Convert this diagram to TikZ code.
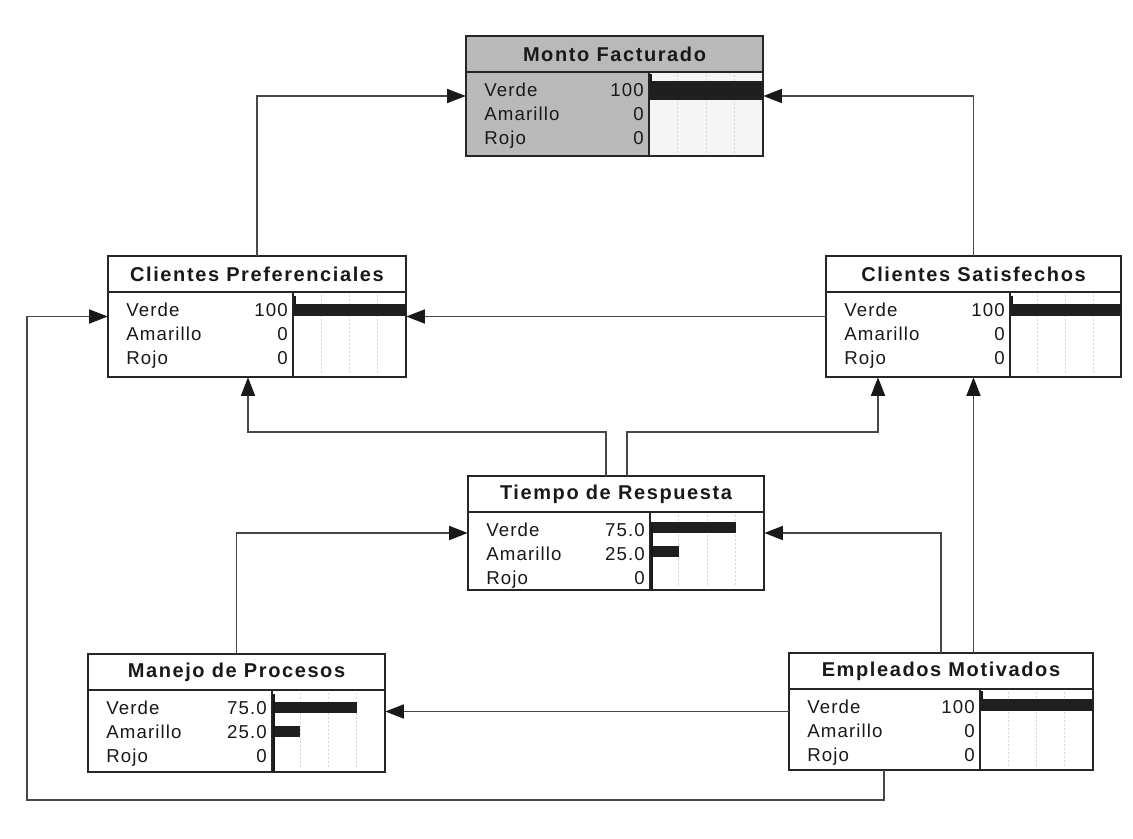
\documentclass[tikz,border=0pt]{standalone}
\usepackage{fontspec}
\setmainfont{Liberation Sans}
\usetikzlibrary{arrows.meta,calc,fit}

% one unit = one pixel of the 1133 x 839 sheet, y grows downwards
\tikzset{
  boxline/.style={draw=black!85, line width=1.7pt},
  link/.style={draw=black!72, line width=1.4pt, line join=miter,
    -{Triangle[length=14pt,width=10.5pt,color=black!90]}},
  ttl/.style={font=\fontsize{15}{18}\selectfont\bfseries\addfontfeature{LetterSpace=8},
    text=black!90, inner sep=0pt},
  row/.style={font=\fontsize{14}{16}\selectfont\addfontfeature{LetterSpace=6},
    text=black!90, inner sep=0pt, text height=10pt, text depth=3pt},
  bar/.style={fill=black!88},
  axis/.style={draw=black!90, line width=1.6pt},
  grid/.style={draw=black!16, line width=0.6pt, dash pattern=on 1.5pt off 1.5pt},
}

\def\bnfill{white}
\def\bnbar{white}

% #1 name, #2 left, #3 top, #4 right, #5 bottom, #6 divider x,
% #7 title, #8 Verde value, #9 Amarillo value
\newcommand\bnbox[9]{%
  \node[fit={(#2,#3)(#4,#5)}, inner sep=0pt, fill=\bnfill] (#1) {};
  \fill[\bnbar] (#6,{#3+36}) rectangle (#4,#5);
  \foreach \q in {0.25,0.5,0.75}
    \draw[grid] ({#6+\q*(#4-#6)},{#3+39}) -- ({#6+\q*(#4-#6)},{#5-3});
  \node[ttl] (#1-t) at ({(#2+#4)/2},{#3+18}) {#7};
  \node[row, anchor=west] (#1-l1) at ({#2+18},{#3+56}) {Verde};
  \node[row, anchor=west] (#1-l2) at ({#2+18},{#3+80}) {Amarillo};
  \node[row, anchor=west] (#1-l3) at ({#2+18},{#3+104}) {Rojo};
  \node[row, anchor=east] (#1-v1) at ({#6-5},{#3+56}) {#8};
  \node[row, anchor=east] (#1-v2) at ({#6-5},{#3+80}) {#9};
  \node[row, anchor=east] (#1-v3) at ({#6-5},{#3+104}) {0};
  \draw[boxline] (#1.north west) rectangle (#1.south east);
  \draw[boxline] (#2,{#3+36}) -- (#4,{#3+36});
  \draw[boxline] (#6,{#3+36}) -- (#6,#5);
}

\begin{document}
\begin{tikzpicture}[x=0.75pt,y=-0.75pt]
\useasboundingbox[fill=white] (0,0) rectangle (1133,839);

% ---------------- network nodes ----------------
\begingroup
\def\bnfill{gray!55}\def\bnbar{black!4}
\bnbox{mf}{466}{36}{763}{156}{649}{Monto Facturado}{100}{0}
\endgroup
\bnbox{cp}{108}{256}{406}{377}{293}{Clientes Preferenciales}{100}{0}
\bnbox{cs}{826}{256}{1121}{377}{1010}{Clientes Satisfechos}{100}{0}
\bnbox{tr}{468}{476}{764}{590}{650}{Tiempo de Respuesta}{75.0}{25.0}
\bnbox{mp}{88}{654}{385}{772}{272}{Manejo de Procesos}{75.0}{25.0}
\bnbox{em}{789}{653}{1093}{770}{980}{Empleados Motivados}{100}{0}

% ---------------- belief bars ----------------
\fill[bar] (649,81) rectangle (763,100);
\draw[axis] (651,74) -- (651,82);
\fill[bar] (293,304) rectangle (406,316);
\draw[axis] (295,296) -- (295,305);
\fill[bar] (1010,304) rectangle (1121,316);
\draw[axis] (1012,296) -- (1012,305);
\fill[bar] (980,699) rectangle (1093,711);
\draw[axis] (982,691) -- (982,700);
\fill[bar] (650,522) rectangle (735.5,533);
\fill[bar] (650,546) rectangle (678.5,557);
\draw[axis] (652,522) -- (652,590);
\fill[bar] (272,702) rectangle (357,713);
\fill[bar] (272,726) rectangle (300,737);
\draw[axis] (274,694) -- (274,772);

% ---------------- influences ----------------
\coordinate (loop) at (27,800);
\draw[link] (cp.north) |- (mf.west);
\draw[link] (cs.north) |- (mf.east);
\draw[link] (cs.west) -- (cp.east);
\draw[link] ($(tr.north)+(-10,0)$) -- ++(0,-44) -| ($(cp.south)+(-9,0)$);
\draw[link] ($(tr.north)+(11,0)$) -- ++(0,-44) -| ($(cs.south)+(-95.5,0)$);
\draw[link] (mp.north) |- (tr.west);
\draw[link] (em.north) |- (tr.east);
\draw[link] ($(em.north)+(32.5,0)$) -- (cs.south);
\draw[link] (em.west) -- (em.west -| mp.east);
\draw[link] ($(em.south)+(-57,0)$) |- (loop) |- (cp.west);
\end{tikzpicture}
\end{document}
